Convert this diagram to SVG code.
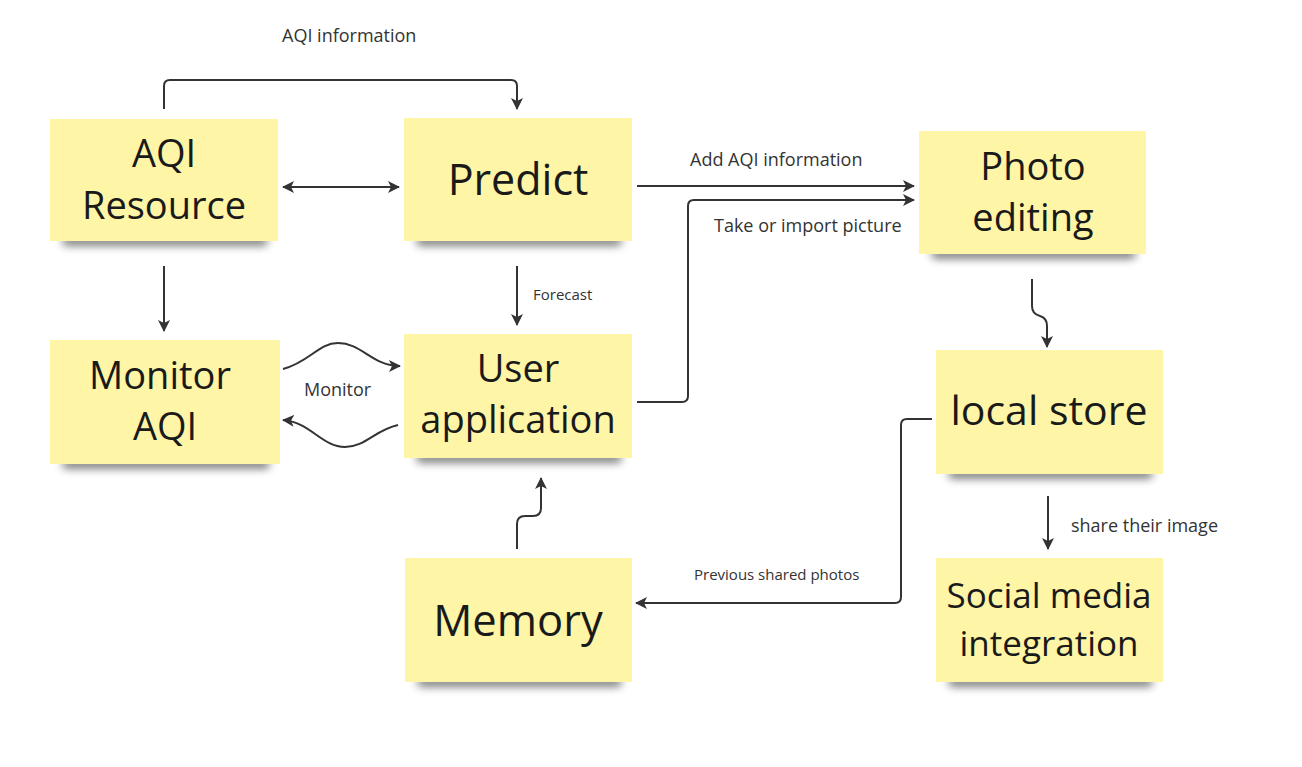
<svg xmlns="http://www.w3.org/2000/svg" width="1302" height="767" viewBox="0 0 1302 767">
<defs>
<style>
.note{fill:#fef5a6;}
.lbl{font-family:"Open Sans","Noto Sans",sans-serif;font-size:38px;fill:#1a1a1a;text-anchor:middle;}
.cl{font-family:"Open Sans","Noto Sans",sans-serif;font-size:18px;fill:#333;}
.cs{font-family:"Open Sans","Noto Sans",sans-serif;font-size:15px;fill:#333;}
.ln{fill:none;stroke:#333;stroke-width:2;}
.sh{fill:#000;opacity:0.5;filter:url(#blur);}
</style>
<filter id="blur" x="-20%" y="-100%" width="140%" height="300%"><feGaussianBlur stdDeviation="4"/></filter>
<marker id="ah" viewBox="0 0 12 12" refX="11" refY="6" markerWidth="12" markerHeight="12" markerUnits="userSpaceOnUse" orient="auto-start-reverse">
<path d="M0,0 L12,6 L0,12 L3,6 z" fill="#333"/>
</marker>
</defs>
<rect width="1302" height="767" fill="#fff"/>

<g id="connectors">
<path class="ln" d="M164,109 V86 Q164,80 170,80 H511 Q517,80 517,86 V109" marker-end="url(#ah)"/>
<path class="ln" d="M283,187 H399" marker-start="url(#ah)" marker-end="url(#ah)"/>
<path class="ln" d="M637,186 H914" marker-end="url(#ah)"/>
<path class="ln" d="M637,402 H682 Q688,402 688,396 V206 Q688,200 694,200 H914" marker-end="url(#ah)"/>
<path class="ln" d="M517,266 V325" marker-end="url(#ah)"/>
<path class="ln" d="M164,266 V331" marker-end="url(#ah)"/>
<path class="ln" d="M283,369 C310,362 318,343 338,343 C362,343 372,366 400,366" marker-end="url(#ah)"/>
<path class="ln" d="M398,425 C375,430 365,447 345,447 C322,447 310,422 283,420" marker-end="url(#ah)"/>
<path class="ln" d="M1032,279 V306 Q1032,314 1040,316 Q1047,318 1047,326 V347" marker-end="url(#ah)"/>
<path class="ln" d="M517,549 V524 Q517,516 525,516 H533 Q541,516 541,508 V478" marker-end="url(#ah)"/>
<path class="ln" d="M932,419 H907 Q901,419 901,425 V597 Q901,603 895,603 H636" marker-end="url(#ah)"/>
<path class="ln" d="M1048,496 V549" marker-end="url(#ah)"/>
<text class="cl" x="282" y="42">AQI information</text>
<text class="cl" x="690" y="166">Add AQI information</text>
<text class="cl" x="714" y="232">Take or import picture</text>
<text class="cs" x="533" y="300">Forecast</text>
<text class="cl" x="304" y="396">Monitor</text>
<text class="cs" x="694" y="580">Previous shared photos</text>
<text class="cl" x="1071" y="532">share their image</text>
</g>

<g id="aqi-resource">
<rect class="sh" x="62" y="236" width="206" height="10" rx="5"/>
<rect class="note" x="50" y="119" width="228" height="122"/>
<text class="lbl" x="164" y="167">AQI</text>
<text class="lbl" x="164" y="219">Resource</text>
</g>
<g id="predict">
<rect class="sh" x="416" y="236" width="206" height="10" rx="5"/>
<rect class="note" x="404" y="118" width="228" height="123"/>
<text class="lbl" x="518" y="195" style="font-size:43px">Predict</text>
</g>
<g id="photo-editing">
<rect class="sh" x="931" y="249" width="205" height="10" rx="5"/>
<rect class="note" x="919" y="131" width="227" height="123"/>
<text class="lbl" x="1033" y="180">Photo</text>
<text class="lbl" x="1033" y="231">editing</text>
</g>
<g id="monitor-aqi">
<rect class="sh" x="62" y="459" width="208" height="10" rx="5"/>
<rect class="note" x="50" y="340" width="230" height="124"/>
<text class="lbl" x="160" y="389">Monitor</text>
<text class="lbl" x="165" y="440">AQI</text>
</g>
<g id="user-application">
<rect class="sh" x="416" y="453" width="206" height="10" rx="5"/>
<rect class="note" x="404" y="334" width="228" height="124"/>
<text class="lbl" x="518" y="382">User</text>
<text class="lbl" x="518" y="433">application</text>
</g>
<g id="local-store">
<rect class="sh" x="948" y="469" width="205" height="10" rx="5"/>
<rect class="note" x="936" y="350" width="227" height="124"/>
<text class="lbl" x="1049" y="425" style="font-size:41px">local store</text>
</g>
<g id="memory">
<rect class="sh" x="417" y="677" width="205" height="10" rx="5"/>
<rect class="note" x="405" y="558" width="227" height="124"/>
<text class="lbl" x="518" y="636" style="font-size:43.5px">Memory</text>
</g>
<g id="social-media-integration">
<rect class="sh" x="948" y="677" width="205" height="10" rx="5"/>
<rect class="note" x="936" y="558" width="227" height="124"/>
<text class="lbl" x="1049" y="608" style="font-size:35px">Social media</text>
<text class="lbl" x="1049" y="656" style="font-size:35px">integration</text>
</g>
</svg>
